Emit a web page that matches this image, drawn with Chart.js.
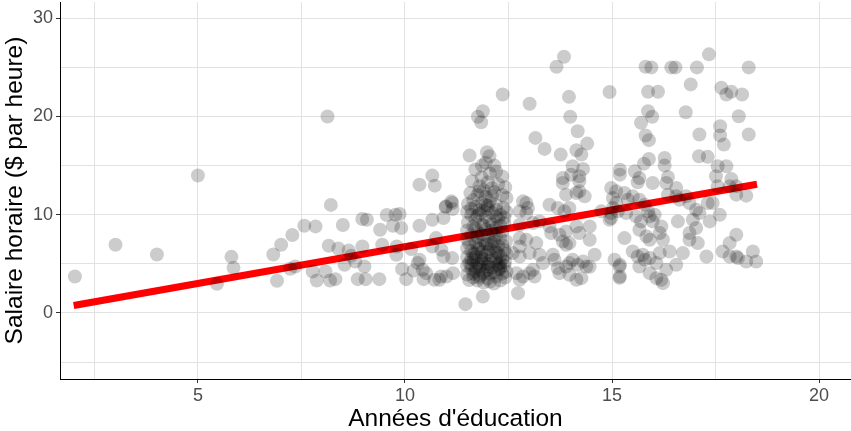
<!DOCTYPE html>
<html lang="fr">
<head>
<meta charset="utf-8">
<title>Salaire horaire selon les années d'éducation</title>
<script src="https://cdn.jsdelivr.net/npm/chart.js@4/dist/chart.umd.min.js"></script>
<style>
  html, body { margin: 0; padding: 0; background: #fff; }
  #wageChart { display: block; }
</style>
</head>
<body>
<canvas id="wageChart" width="851" height="431"></canvas>
<script>
// years of education (jittered) and hourly wage, one entry per worker
const educ = [
  2.03, 3.01, 4.01, 5.0, 5.46, 5.81, 5.86, 6.82, 7.01, 6.91, 7.28, 7.23, 7.35, 7.57, 7.84, 8.13,
  8.21, 8.5, 8.97, 9.08, 9.56, 9.77, 9.87, 9.71, 9.91, 9.4, 10.35, 10.66, 10.93, 10.98, 11.14, 11.15,
  10.35, 10.66, 10.72, 8.16, 8.39, 8.64, 8.7, 8.54, 8.97, 9.02, 8.8, 9.45, 9.8, 9.79, 10.15, 10.35,
  9.93, 10.21, 10.43, 7.77, 7.87, 8.08, 8.19, 8.32, 8.86, 9.05, 9.38, 10.03, 10.45, 10.83, 11.0, 10.66,
  10.88, 10.93, 11.14, 10.75, 10.31, 10.51, 10.71, 10.87, 11.16, 11.12, 10.99,
  // around twelve years
  11.88, 11.76, 11.84, 11.56, 11.98, 12.04, 11.86, 12.16, 12.36, 11.46, 11.88, 12.73,
  11.7, 11.95, 12.2, 12.35, 11.85, 12.05,
  11.62, 11.8, 12.0, 12.25, 12.42, 11.9, 12.1,
  11.58, 11.75, 11.95, 12.15, 12.35, 12.45, 11.65, 12.05,
  11.52, 11.7, 11.85, 12.0, 12.2, 12.38, 11.9,
  11.5, 11.6, 11.8, 12.1, 12.3, 12.45, 11.95, 12.25, 11.7,
  11.52, 11.85, 12.05, 12.4, 11.65, 12.2,
  11.5, 11.75, 11.95, 12.15, 12.35, 11.6, 12.0,
  11.5, 11.7, 11.9, 12.1, 12.3, 12.44, 11.8, 12.25,
  11.5, 11.6, 11.8, 12.0, 12.15, 12.4, 12.45, 11.7, 11.95, 12.3,
  11.5, 11.65, 11.85, 12.05, 12.2, 12.42, 11.55, 11.75, 12.0, 12.3,
  11.5, 11.6, 11.8, 11.95, 12.1, 12.25, 12.4, 12.45, 11.7, 11.9, 12.15, 12.35,
  11.5, 11.65, 11.8, 12.0, 12.2, 12.42, 11.75, 12.05, 12.3, 11.55, 11.9, 12.15,
  11.6, 11.85, 12.1, 12.35, 11.7, 12.0, 12.25, 11.8, 11.65, 12.05, 12.3, 11.9, 12.2, 11.75, 12.0,
  12.2, 11.85, 12.1, 11.75, 12.2, 11.95, 12.1, 11.8,
  11.6, 11.8, 12.0, 12.2, 12.4, 11.7, 11.9, 12.1, 12.3, 11.55, 11.75, 11.95, 12.15,
  12.35, 11.65, 11.85, 12.05, 12.25, 11.6, 11.9, 12.2, 11.7, 12.0, 12.3, 11.8,
  // thirteen to fifteen years
  13.66, 13.84, 14.94, 13.96, 13.01, 13.99, 14.17, 13.15, 13.37, 14.4, 13.76, 14.14, 14.26, 14.05, 14.3, 14.01,
  14.21, 13.81, 13.89, 14.21, 14.34, 14.98, 15.1, 13.49, 13.69, 12.93, 12.97, 12.77, 14.74, 14.98, 15.14, 14.46,
  14.46, 14.58, 13.89, 14.14, 14.21, 13.53, 13.73, 13.81, 13.89, 12.77, 12.93, 13.17, 12.6, 12.77, 13.01, 13.25,
  13.33, 13.61, 13.69, 13.89, 14.05, 14.17, 14.3, 14.38, 13.97, 14.14, 14.26, 12.69, 12.77, 12.85, 13.01, 13.13,
  15.18, 15.06, 15.18, 12.85, 13.81, 14.21, 14.14, 12.93, 13.85, 13.97, 13.25, 13.49, 13.97, 13.09, 12.77, 12.77,
  13.57, 13.97, 13.09, 13.73, 14.46,
  // sixteen years and more
  17.34, 15.81, 15.95, 16.43, 16.53, 17.05, 18.3, 15.87, 16.11, 16.9, 17.64, 17.76, 17.88, 18.14, 15.87, 15.97,
  15.7, 16.78, 18.06, 15.81, 15.89, 17.11, 17.61, 17.61, 17.7, 18.3, 17.1, 17.31, 15.89, 15.77, 16.27, 16.27,
  16.35, 16.31, 17.55, 17.76, 17.51, 17.88, 18.0, 18.24, 15.19, 15.19, 15.55, 15.66, 15.62, 15.98, 15.02, 15.3,
  15.38, 15.5, 15.66, 15.87, 15.91, 16.03, 15.79, 16.55, 16.79, 16.87, 17.03, 16.59, 16.95, 17.11, 17.36, 17.43,
  17.6, 17.31, 18.0, 14.98, 14.94, 15.34, 15.58, 15.7, 15.98, 16.19, 15.3, 15.66, 15.83, 16.15, 16.23, 15.91,
  16.39, 16.71, 16.87, 16.87, 17.03, 17.07, 17.28, 15.5, 15.62, 15.74, 15.79, 15.91, 15.66, 16.07, 16.15, 16.31,
  15.19, 15.19, 15.91, 16.07, 16.19, 17.67, 17.84, 18.0, 18.04, 18.24, 18.4, 18.48, 17.84, 15.1, 15.02, 16.55,
  16.35, 16.63, 17.55, 17.84, 18.0, 16.55, 16.23
];

const wage = [
  3.7, 6.94, 5.95, 14.0, 2.96, 5.71, 4.59, 5.95, 6.94, 3.27, 7.93, 4.49, 4.72, 8.88, 8.81, 20.0,
  11.0, 8.95, 9.56, 9.49, 9.97, 10.0, 10.07, 8.88, 8.64, 8.47, 8.88, 9.49, 9.66, 10.79, 11.19, 10.58,
  13.06, 13.98, 12.96, 6.84, 6.56, 6.36, 5.82, 4.9, 6.77, 4.72, 5.24, 6.94, 6.77, 5.92, 6.5, 5.41,
  4.46, 4.32, 4.39, 4.22, 3.3, 4.22, 3.3, 3.44, 3.44, 3.44, 3.44, 3.44, 3.44, 3.37, 3.7, 6.77,
  6.43, 5.75, 5.58, 7.62, 5.07, 4.05, 3.37, 3.7, 4.05, 11.36, 10.85,
  // around twelve years
  20.54, 19.97, 19.42, 16.02, 16.36, 15.95, 15.0, 15.0, 22.24, 0.89, 1.66, 2.01,
  14.6, 15.3, 14.4, 13.9, 13.8, 14.2,
  13.4, 12.9, 13.3, 13.1, 12.8, 12.5, 12.7,
  12.2, 12.0, 11.8, 12.3, 12.0, 11.7, 11.5, 11.4,
  11.1, 10.8, 11.2, 10.9, 11.0, 10.7, 10.4,
  10.3, 10.0, 10.1, 10.2, 10.0, 10.3, 9.8, 9.6, 9.5,
  9.2, 9.0, 9.3, 9.1, 8.8, 8.7,
  8.4, 8.2, 8.5, 8.0, 8.3, 7.9, 7.8,
  7.5, 7.2, 7.4, 7.1, 7.6, 7.3, 6.9, 6.8,
  6.6, 6.3, 6.5, 6.2, 6.6, 6.4, 6.0, 6.0, 5.9, 5.8,
  5.7, 5.4, 5.6, 5.3, 5.5, 5.2, 5.1, 5.0, 5.0, 5.05,
  4.8, 4.5, 4.7, 4.3, 4.6, 4.4, 4.8, 4.2, 4.2, 4.0, 4.1, 4.0,
  3.9, 3.6, 3.8, 3.5, 3.7, 3.6, 3.3, 3.2, 3.3, 3.35, 3.1, 3.0,
  4.9, 5.3, 5.8, 5.5, 5.7, 4.7, 4.9, 4.4, 4.0, 4.0, 4.5, 5.0, 6.2, 6.6, 7.0,
  7.9, 8.0, 9.0, 9.9, 10.5, 11.0, 11.9, 12.4,
  10.6, 10.5, 10.6, 9.8, 9.7, 8.6, 8.9, 8.4, 8.9, 7.1, 7.7, 7.0, 7.3,
  6.9, 6.0, 6.2, 6.5, 6.1, 5.5, 5.5, 5.2, 4.6, 4.4, 4.7, 3.6,
  // thirteen to fifteen years
  25.07, 26.09, 22.5, 22.0, 21.3, 19.97, 18.5, 17.82, 16.7, 17.24, 16.12, 16.56, 16.12, 14.93, 14.66, 14.08,
  13.91, 13.74, 12.04, 12.38, 11.87, 12.72, 12.38, 11.02, 10.68, 11.19, 10.68, 10.34, 10.34, 9.66, 10.34, 8.81,
  7.45, 5.92, 8.3, 8.81, 8.13, 8.13, 7.96, 7.28, 6.94, 7.62, 7.45, 7.11, 6.09, 5.75, 6.09, 5.92,
  5.07, 5.41, 4.56, 4.72, 5.41, 4.9, 5.24, 4.72, 3.88, 3.37, 3.54, 4.05, 3.37, 3.7, 4.05, 3.7,
  3.57, 5.41, 4.72, 11.36, 13.23, 13.4, 12.21, 10.17, 10.34, 10.68, 9.32, 8.81, 7.11, 9.15, 8.98, 6.77,
  5.92, 5.07, 4.39, 4.05, 4.7,
  // sixteen years and more
  26.33, 25.07, 25.0, 25.0, 25.0, 25.0, 25.0, 22.52, 22.52, 23.27, 22.93, 22.24, 22.52, 22.24, 20.54, 19.97,
  19.36, 20.44, 20.03, 18.06, 17.59, 18.16, 19.01, 18.06, 17.14, 18.16, 15.95, 15.89, 15.68, 15.2, 15.78, 15.0,
  13.85, 13.23, 14.93, 14.93, 13.91, 13.64, 12.89, 11.94, 14.59, 14.08, 14.42, 13.74, 13.3, 13.23, 11.7, 12.21,
  11.53, 11.87, 11.53, 10.34, 9.83, 10.0, 11.02, 11.87, 11.87, 11.19, 10.51, 9.32, 9.49, 10.17, 9.32, 11.19,
  10.0, 11.19, 12.04, 10.17, 9.49, 10.17, 9.83, 9.32, 9.32, 8.81, 7.62, 8.47, 7.79, 8.13, 7.45, 7.45,
  6.26, 6.09, 8.13, 7.45, 8.64, 7.11, 5.75, 6.26, 5.75, 5.92, 5.41, 5.58, 4.72, 5.07, 6.09, 4.39,
  4.9, 3.7, 4.05, 3.54, 3.37, 6.26, 5.75, 7.96, 5.58, 5.24, 6.26, 5.24, 7.11, 11.19, 10.68, 12.72,
  12.04, 11.53, 12.89, 12.89, 5.75, 4.9, 3.03
];

// fitted least-squares line, from the lowest to the highest education level
const fitEduc = [2.0, 18.5];
const fitWage = [0.76, 13.1];

const xTicks = [2.5, 5, 7.5, 10, 12.5, 15, 17.5, 20];
const yTicks = [-5, 0, 5, 10, 15, 20, 25, 30];

const FONT = "'Liberation Sans', Arial, sans-serif";
const GRID = '#e2e2e2';

// the axes should not reserve extra room for half tick labels at their ends
function noEdgePadding(s) {
  s.paddingTop = 0;
  s.paddingBottom = 0;
  s.paddingLeft = 0;
  s.paddingRight = 0;
}

const ctx = document.getElementById('wageChart').getContext('2d');

new Chart(ctx, {
  type: 'scatter',
  data: {
    datasets: [
      {
        label: 'Travailleurs',
        data: educ.map((x, i) => ({ x: x, y: wage[i] })),
        backgroundColor: 'rgba(0, 0, 0, 0.2)',
        borderWidth: 0,
        pointRadius: 7,
        pointHoverRadius: 7
      },
      {
        type: 'line',
        label: 'Droite de régression',
        data: fitEduc.map((x, i) => ({ x: x, y: fitWage[i] })),
        borderColor: '#ff0000',
        borderWidth: 7,
        borderCapStyle: 'butt',
        pointRadius: 0,
        fill: false
      }
    ]
  },
  options: {
    responsive: false,
    animation: false,
    events: [],
    layout: { autoPadding: false, padding: { top: 2, right: 0, bottom: 0, left: 0 } },
    plugins: {
      legend: { display: false },
      tooltip: { enabled: false }
    },
    scales: {
      x: {
        type: 'linear',
        min: 1.67,
        max: 20.77,
        afterFit: s => { s.height = 52; noEdgePadding(s); },
        afterBuildTicks: s => { s.ticks = xTicks.map(v => ({ value: v })); },
        border: { display: true, color: '#000', width: 1 },
        grid: {
          color: GRID,
          lineWidth: 1,
          tickLength: 4,
          tickColor: c => (c.tick && c.tick.value % 5 === 0) ? '#333' : 'rgba(0,0,0,0)'
        },
        ticks: {
          padding: 2,
          color: '#4d4d4d',
          font: { family: FONT, size: 18 },
          maxRotation: 0,
          autoSkip: false,
          callback: v => (v % 5 === 0 ? String(v) : '')
        },
        title: {
          display: true,
          text: "Années d'éducation",
          color: '#000',
          font: { family: FONT, size: 24.5, lineHeight: 1 },
          padding: { top: 0, bottom: 0 }
        }
      },
      y: {
        type: 'linear',
        min: -6.73,
        max: 31.66,
        afterFit: s => { s.width = 60; noEdgePadding(s); },
        afterBuildTicks: s => { s.ticks = yTicks.map(v => ({ value: v })); },
        border: { display: true, color: '#000', width: 1 },
        grid: {
          color: GRID,
          lineWidth: 1,
          tickLength: 4,
          tickColor: c => (c.tick && c.tick.value % 10 === 0) ? '#333' : 'rgba(0,0,0,0)'
        },
        ticks: {
          padding: 3,
          color: '#4d4d4d',
          font: { family: FONT, size: 18 },
          autoSkip: false,
          callback: v => (v % 10 === 0 ? String(v) : '')
        },
        title: {
          display: true,
          text: 'Salaire horaire ($ par heure)',
          color: '#000',
          font: { family: FONT, size: 24.5, lineHeight: 1 },
          padding: { top: 3, bottom: 0 }
        }
      }
    }
  }
});
</script>
</body>
</html>
